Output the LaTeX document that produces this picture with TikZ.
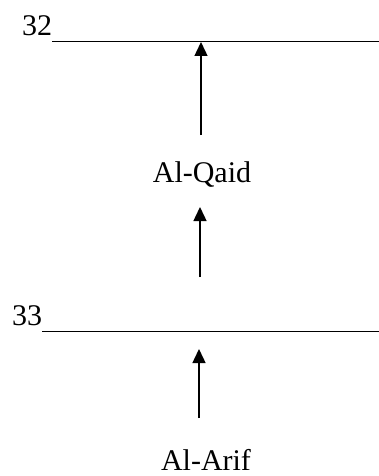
\documentclass[tikz,border=0pt]{standalone}
\usepackage{fontspec}
\setmainfont{Liberation Serif}
\usetikzlibrary{arrows.meta}
\begin{document}
\begin{tikzpicture}[x=1pt,y=-1pt,
  lbl/.style={inner sep=0pt,font=\fontsize{30}{32}\selectfont},
  level/.style={line width=1pt},
  uparrow/.style={line width=1.4pt,-{Triangle[length=14pt,width=13pt]}}]
\useasboundingbox (0,0) rectangle (379,476);
% labels
\node[lbl,anchor=base west] (n32) at (22,36) {32};
\node[lbl,anchor=base west] (n33) at (12,325) {33};
\node[lbl,anchor=base] (qaid) at (202,182) {Al-Qaid};
\node[lbl,anchor=base] (arif) at (206,470) {Al-Arif};
% level lines
\coordinate (l1a) at (52,42);
\coordinate (l1b) at (379,42);
\coordinate (l2a) at (42,331);
\coordinate (l2b) at (379,331);
\draw[level] (l1a) -- (l1b);
\draw[level] (l2a) -- (l2b);
% arrows
\coordinate (a1s) at (201,135);
\coordinate (a1e) at (201,42);
\coordinate (a2s) at (200,277);
\coordinate (a2e) at (200,207);
\coordinate (a3s) at (199,418);
\coordinate (a3e) at (199,349);
\draw[uparrow] (a1s) -- (a1e);
\draw[uparrow] (a2s) -- (a2e);
\draw[uparrow] (a3s) -- (a3e);
\end{tikzpicture}
\end{document}
